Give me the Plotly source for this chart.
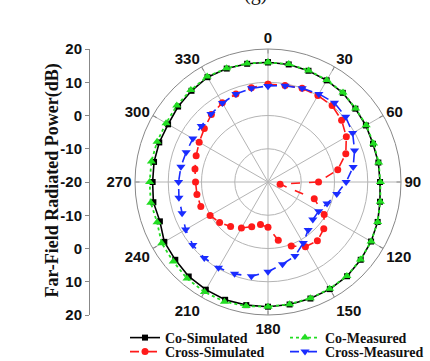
import plotly.graph_objects as go

angles = list(range(0, 360, 10))

co_sim = [16, 15.9, 15.6, 15.3, 15, 14.3, 14, 13.6, 13.7, 13.7, 14.2, 15.1, 15.8, 16.4, 17, 17.2,
          17.3, 17.4, 17.5, 17.6, 17.7, 17.4, 17.1, 16.4, 16, 14.6, 15, 14.7, 14.8, 14.8, 14.7,
          15.3, 15.8, 16.4, 16.3, 16.1]
co_meas = [16, 16, 15.7, 15.4, 15.1, 14.4, 14.1, 13.8, 13.8, 13.8, 14.3, 15.1, 15.8, 16.3, 16.9,
           17.1, 17.2, 17.3, 17.5, 17.9, 18.3, 18.2, 17.9, 17.2, 16.9, 15.5, 15.8, 15.6, 15.6,
           15.5, 15.4, 15.8, 16.1, 16.6, 16.4, 16.2]
cross_sim = [9.4, 9.5, 10, 10, 10, 8.9, 7.2, 4.9, 1.3, -4.8, -16.3, -5.2, -0.5, 1.9, 3.1, 2.5,
             0.5, -2.2, -6.4, -7, -5.7, -4, -2.5, -1, 0.1, 1.5, 1.7, 1.8, 2.3, 3, 3.9, 5, 6.5,
             7.5, 8.2, 8.8]
cross_meas = [8.9, 9.4, 10, 10.6, 11.1, 10.5, 9.4, 7.7, 6, 3.5, 1, -1.1, -2.4, -2.4, -1.2, 1.2,
              3.7, 5.1, 7, 8.8, 9.4, 9.8, 9.8, 9.5, 8.6, 7.5, 7.2, 6.9, 6.6, 6.2, 6.1, 6.2, 6.7,
              7.4, 8.2, 8.6]

series_names = ["Co-Simulated", "Co-Measured", "Cross-Simulated", "Cross-Measured"]
left_tickvals = [-40, -30, -20, -10, 0, 10, 20, 30, 40]
left_ticktext = ["20", "10", "0", "-10", "-20", "-10", "0", "10", "20"]
angle_ticks = [0, 30, 60, 90, 120, 150, 180, 210, 240, 270, 300, 330]

W, H = 430, 361
CX, CY, R = 268, 182, 133

def close(v):
    return v + v[:1]

th = close(angles)
styles = [
    dict(color="black", dash="solid", symbol="square", size=6, width=1.6, legend="legend"),
    dict(color="#22dd22", dash="dot", symbol="triangle-up", size=8, width=1.8, legend="legend"),
    dict(color="#ff1a1a", dash="dash", symbol="circle", size=7, width=1.6, legend="legend2"),
    dict(color="#1a2cff", dash="dash", symbol="triangle-down", size=8, width=1.6, legend="legend2"),
]
fig = go.Figure()
for name, vals, st in zip(series_names, [co_sim, co_meas, cross_sim, cross_meas], styles):
    fig.add_trace(go.Scatterpolar(
        r=close(vals), theta=th, mode="lines+markers", name=name, legend=st["legend"],
        line=dict(color=st["color"], dash=st["dash"], width=st["width"]),
        marker=dict(symbol=st["symbol"], size=st["size"], color=st["color"]),
    ))

# invisible cartesian trace so the left dB axis is drawn
fig.add_trace(go.Scatter(x=[None], y=[None], showlegend=False, hoverinfo="skip"))

px_x0 = (CX - R) / W
px_x1 = (CX + R) / W
py0 = (H - CY - R) / H
py1 = (H - CY + R) / H

gridc = "#b4b4b4"
tick_font = dict(family="Arial", size=15, color="#111", weight="bold")
leg_common = dict(orientation="h", xanchor="left", yanchor="middle",
                  entrywidth=115, entrywidthmode="pixels", tracegroupgap=0,
                  font=dict(family="Liberation Serif", size=14, color="#111", weight="bold"),
                  bgcolor="rgba(0,0,0,0)", itemwidth=30)
fig.update_layout(
    width=W, height=H,
    margin=dict(l=0, r=0, t=0, b=0, autoexpand=False),
    paper_bgcolor="white", plot_bgcolor="white",
    polar=dict(
        domain=dict(x=[px_x0, px_x1], y=[py0, py1]),
        bgcolor="white",
        radialaxis=dict(range=[-20, 20], tickvals=[-10, 0, 10, 20], showticklabels=False,
                        ticks="", showline=False, gridcolor=gridc, gridwidth=1),
        angularaxis=dict(rotation=90, direction="clockwise", tickvals=angle_ticks,
                         ticks="inside", ticklen=4, tickcolor="#888",
                         linecolor="#888", linewidth=1, gridcolor=gridc,
                         tickfont=tick_font),
    ),
    xaxis=dict(visible=False, domain=[0.5, 0.6]),
    yaxis=dict(domain=[py0, py1], range=[-40, 40], anchor="free", position=89 / W,
               tickvals=left_tickvals, ticktext=left_ticktext, ticks="outside", ticklen=4,
               tickcolor="#888", showline=True, linecolor="#888", showgrid=False,
               zeroline=False, tickfont=tick_font),
    legend=dict(x=125 / W, y=(H - 338) / H, **leg_common),
    legend2=dict(x=125 / W, y=(H - 352) / H, **leg_common),
    showlegend=True,
    annotations=[
        dict(text="<b>Far-Field Radiated Power(dB)</b>", textangle=-90, x=39 / W, y=(H - 181) / H,
             xref="paper", yref="paper", showarrow=False,
             font=dict(family="Liberation Serif", size=18, color="#111")),
        dict(text="(g)", x=255 / W, y=1 + 6 / H, xref="paper", yref="paper", showarrow=False,
             yanchor="middle", font=dict(family="Liberation Serif", size=20, color="#111")),
    ],
)
fig.write_html("out.html")
